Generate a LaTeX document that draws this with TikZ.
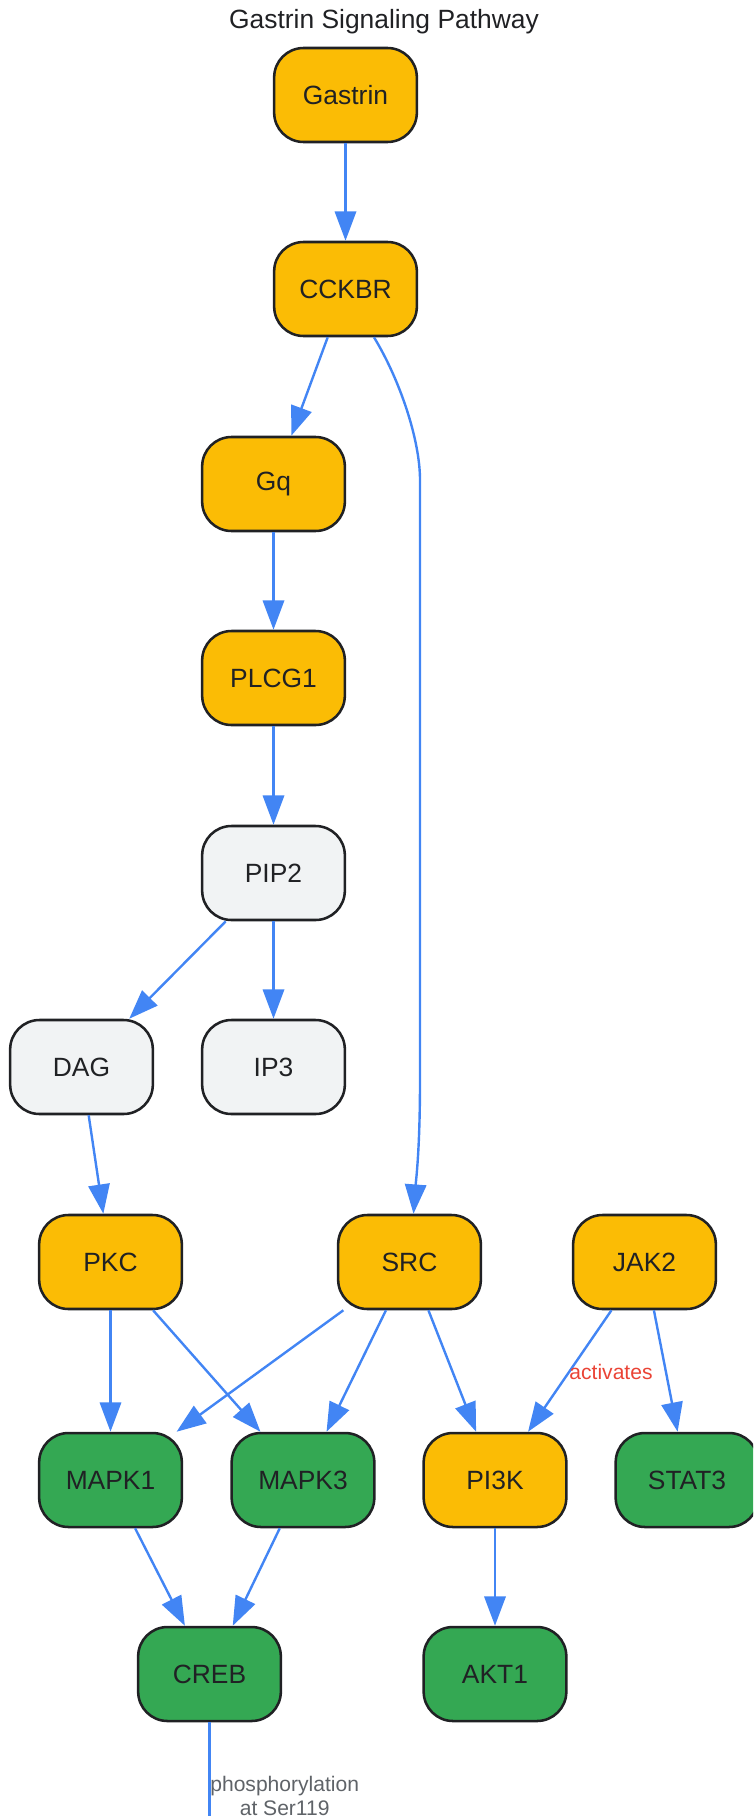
\documentclass[tikz,border=0pt]{standalone}
\usepackage{fontspec}
\setmainfont{Liberation Sans}
\usetikzlibrary{arrows.meta,calc}
\definecolor{gold}{HTML}{FBBC05}
\definecolor{leaf}{HTML}{34A853}
\definecolor{pale}{HTML}{F1F3F4}
\definecolor{ink}{HTML}{202124}
\definecolor{wire}{HTML}{4285F4}
\definecolor{redlab}{HTML}{EA4335}
\definecolor{greylab}{HTML}{5F6368}

\begin{document}
\begin{tikzpicture}[x=0.75pt,y=0.75pt,yscale=-1,xscale=1,
  box/.style={draw=ink, line width=1.9pt, rounded corners=22pt, minimum width=107pt, minimum height=70.5pt, text=ink, font=\fontsize{19.8}{24}\selectfont},
  yel/.style={box, fill=gold},
  grn/.style={box, fill=leaf},
  gry/.style={box, fill=pale},
  edge/.style={draw=wire, line width=1.8pt, -{Triangle[length=22pt,width=16pt]}},
  elabel/.style={font=\fontsize{15.8}{17.5}\selectfont, align=center}]
\useasboundingbox (0,0) rectangle (753,1816);
\clip (0,0) rectangle (753,1816);

%Title
\node[text=ink, font=\fontsize{19.8}{24}\selectfont] (title) at (384,22) {Gastrin Signaling Pathway};

%Rounded Rect
\node[yel] (Gastrin) at (345.5,95) {Gastrin};
\node[yel] (CCKBR) at (345.5,289) {CCKBR};
\node[yel] (Gq) at (273.5,484) {Gq};
\node[yel] (PLCG1) at (273.5,678) {PLCG1};
\node[gry] (PIP2) at (273.5,873) {PIP2};
\node[gry] (DAG) at (81.5,1067) {DAG};
\node[gry] (IP3) at (273.5,1067) {IP3};
\node[yel] (PKC) at (110.5,1262) {PKC};
\node[yel] (SRC) at (409.5,1262) {SRC};
\node[yel] (JAK2) at (644.5,1262) {JAK2};
\node[grn] (MAPK1) at (110.5,1480) {MAPK1};
\node[grn] (MAPK3) at (303,1480) {MAPK3};
\node[yel] (PI3K) at (495,1480) {PI3K};
\node[grn] (STAT3) at (687,1480) {STAT3};
\node[grn] (CREB) at (209.5,1674) {CREB};
\node[grn] (AKT1) at (495,1674) {AKT1};
\coordinate (below) at (209.5,1880);

%Straight Lines
\draw[edge] (Gastrin) -- (CCKBR);
\draw[edge] (CCKBR) -- (Gq);
\draw[edge] (Gq) -- (PLCG1);
\draw[edge] (PLCG1) -- (PIP2);
\draw[edge] (PIP2) -- (DAG);
\draw[edge] (PIP2) -- (IP3);
\draw[edge] (DAG) -- (PKC);
\draw[edge] (PKC) -- (MAPK1);
\draw[edge] (PKC) -- (MAPK3);
\draw[edge] (SRC) -- (MAPK1);
\draw[edge] (SRC) -- (MAPK3);
\draw[edge] (SRC) -- (PI3K);
\draw[edge] (JAK2) -- (PI3K);
\draw[edge] (JAK2) -- (STAT3);
\draw[edge] (MAPK1) -- (CREB);
\draw[edge] (MAPK3) -- (CREB);
\draw[edge] (PI3K) -- (AKT1);
\draw[edge] (CREB) -- (below);

%Curve Lines
\draw[edge] ($(CCKBR.south)+(28.5,0)$) .. controls (400,380) and (420,440) .. (420,480) -- (420,1080) .. controls (420,1150) and (416,1180) .. ($(SRC.north)+(4,0)$);

%Labels
\node[elabel, text=redlab] (act) at (611,1372) {activates};
\node[elabel, text=greylab] (phos) at (284.7,1796) {phosphorylation\\at Ser119};

\end{tikzpicture}
\end{document}
